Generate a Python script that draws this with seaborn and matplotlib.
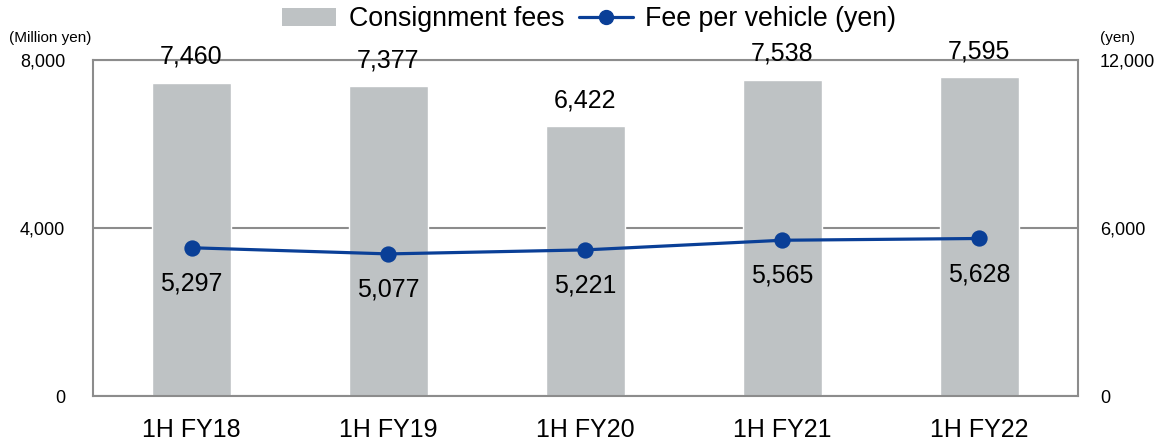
#!/usr/bin/env python3
"""Consignment fees and fee per vehicle, 1H FY18-FY22."""

import matplotlib.pyplot as plt
import pandas as pd
import seaborn as sns
from matplotlib.lines import Line2D
from matplotlib.patches import Patch

periods = ["1H FY18", "1H FY19", "1H FY20", "1H FY21", "1H FY22"]
consignment_fees = [7460, 7377, 6422, 7538, 7595]  # million yen
fee_per_vehicle = [5297, 5077, 5221, 5565, 5628]  # yen

BAR_COLOR = "#BEC2C4"
LINE_COLOR = "#0A3F97"
AXIS_COLOR = "#8C8C8C"


def main() -> None:
    df = pd.DataFrame(
        {"period": periods, "fees": consignment_fees, "per_vehicle": fee_per_vehicle}
    )

    sns.set_style("white")
    plt.rcParams["font.family"] = ["Liberation Sans", "DejaVu Sans"]
    plt.rcParams["text.color"] = "black"
    plt.rcParams["xtick.color"] = "black"
    plt.rcParams["ytick.color"] = "black"

    fig = plt.figure(figsize=(11.6, 4.42), dpi=100)
    ax = fig.add_axes([0.0802, 0.104, 0.849, 0.760])

    sns.barplot(data=df, x="period", y="fees", color=BAR_COLOR, width=0.4,
                saturation=1, ax=ax)
    ax.set_ylim(0, 8000)
    ax.set_xlim(-0.5, 4.5)
    ax.set_yticks([0, 4000, 8000])
    ax.set_yticklabels(["0", "4,000", "8,000"], fontsize=13)
    ax.yaxis.grid(True, color=AXIS_COLOR, linewidth=1.5)
    ax.set_axisbelow(True)
    ax.set_xlabel("")
    ax.set_ylabel("")
    ax.tick_params(axis="y", length=0, pad=20)
    ax.tick_params(axis="x", length=0, labelsize=18, pad=16)
    ax.set_xticks([0.5, 1.5, 2.5, 3.5], minor=True)
    ax.tick_params(axis="x", which="minor", direction="in", length=6,
                   width=1.2, color=AXIS_COLOR)
    for spine in ax.spines.values():
        spine.set_color(AXIS_COLOR)
        spine.set_linewidth(1.5)

    for i, v in enumerate(consignment_fees):
        ax.annotate(f"{v:,}", (i, v), xytext=(0, 10), textcoords="offset points",
                    ha="center", va="bottom", fontsize=18)

    ax2 = ax.twinx()
    sns.pointplot(data=df, x="period", y="per_vehicle", color=LINE_COLOR,
                  markers="o", markersize=10, linewidth=2.3, ax=ax2)
    ax2.set_ylim(0, 12000)
    ax2.set_xlim(-0.5, 4.5)
    ax2.set_yticks([0, 6000, 12000])
    ax2.set_yticklabels(["0", "6,000", "12,000"], fontsize=13)
    ax2.tick_params(axis="y", length=0, pad=16)
    ax2.set_ylabel("")
    for spine in ax2.spines.values():
        spine.set_visible(False)

    for i, v in enumerate(fee_per_vehicle):
        ax2.annotate(f"{v:,}", (i, v), xytext=(0, -17), textcoords="offset points",
                     ha="center", va="top", fontsize=18)

    fig.text(0.008, 0.915, "(Million yen)", fontsize=11, ha="left", va="center")
    fig.text(0.963, 0.915, "(yen)", fontsize=11, ha="center", va="center")

    handles = [
        Patch(facecolor=BAR_COLOR, edgecolor="none", label="Consignment fees"),
        Line2D([0], [0], color=LINE_COLOR, linewidth=2.3, marker="o",
               markersize=10, label="Fee per vehicle (yen)"),
    ]
    fig.legend(handles=handles, loc="center", bbox_to_anchor=(0.508, 0.957),
               ncol=2, frameon=False, fontsize=19.3, handlelength=2.0,
               handleheight=0.65, columnspacing=0.55, handletextpad=0.48)

    fig.savefig("out.png", dpi=100)


if __name__ == "__main__":
    main()
